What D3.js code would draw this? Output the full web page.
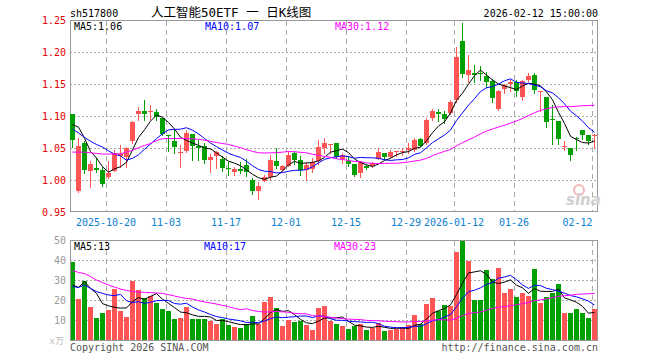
<!DOCTYPE html>
<html><head><meta charset="utf-8">
<script src="https://cdn.jsdelivr.net/npm/d3@7"></script>
<style>body{margin:0;background:#fff}svg{display:block}</style>
</head><body><svg id="c" width="660" height="360"></svg>
<script>
const dates = ["10-10","10-13","10-14","10-15","10-16","10-17","10-20","10-21","10-22","10-23","10-24","10-27","10-28","10-29","10-30","10-31","11-03","11-04","11-05","11-06","11-07","11-10","11-11","11-12","11-13","11-14","11-17","11-18","11-19","11-20","11-21","11-24","11-25","11-26","11-27","11-28","12-01","12-02","12-03","12-04","12-05","12-08","12-09","12-10","12-11","12-12","12-15","12-16","12-17","12-18","12-19","12-22","12-23","12-24","12-25","12-26","12-29","12-30","12-31","01-05","01-06","01-07","01-08","01-09","01-12","01-13","01-14","01-15","01-16","01-19","01-20","01-21","01-22","01-23","01-26","01-27","01-28","01-29","01-30","02-02","02-03","02-04","02-05","02-06","02-09","02-10","02-11","02-12"];
const open  = [1.103,0.983,1.058,1.015,1.019,1.016,1.005,1.015,1.038,1.036,1.061,1.103,1.109,1.107,1.107,1.098,1.070,1.062,1.0425,1.046,1.072,1.054,1.054,1.032,1.038,1.033,1.019,1.013,1.018,1.024,1.000,0.983,0.999,1.005,1.030,1.016,1.023,1.042,1.031,1.016,1.017,1.030,1.051,1.0555,1.058,1.033,1.030,1.025,1.011,1.022,1.022,1.034,1.043,1.036,1.0445,1.044,1.047,1.048,1.064,1.0585,1.097,1.107,1.103,1.105,1.126,1.218,1.165,1.168,1.168,1.163,1.155,1.111,1.143,1.151,1.153,1.130,1.157,1.165,1.139,1.130,1.096,1.093,1.052,1.051,1.066,1.079,1.070,1.069];
const high  = [1.104,1.066,1.061,1.030,1.035,1.021,1.030,1.047,1.055,1.052,1.093,1.114,1.126,1.118,1.111,1.098,1.070,1.078,1.055,1.079,1.072,1.063,1.059,1.041,1.046,1.038,1.029,1.021,1.028,1.034,1.003,0.997,1.009,1.040,1.051,1.024,1.046,1.046,1.038,1.028,1.035,1.063,1.066,1.057,1.058,1.043,1.038,1.025,1.030,1.024,1.028,1.051,1.043,1.048,1.046,1.051,1.0575,1.066,1.066,1.0975,1.111,1.111,1.109,1.126,1.209,1.246,1.196,1.180,1.179,1.170,1.159,1.141,1.151,1.157,1.157,1.157,1.167,1.167,1.140,1.130,1.118,1.093,1.061,1.051,1.068,1.079,1.071,1.072];
const low   = [1.052,0.982,1.012,0.990,1.013,0.991,1.004,1.014,1.021,1.021,1.059,1.095,1.095,1.096,1.095,1.070,1.046,1.043,1.021,1.045,1.032,1.032,1.027,1.013,1.019,1.015,1.009,1.008,1.012,1.007,0.978,0.970,0.999,1.001,1.019,1.015,1.022,1.026,1.009,1.000,1.013,1.025,1.043,1.043,1.035,1.027,1.023,1.006,1.005,1.018,1.020,1.033,1.033,1.036,1.038,1.040,1.043,1.0465,1.053,1.057,1.095,1.092,1.090,1.103,1.123,1.162,1.154,1.153,1.157,1.146,1.122,1.110,1.137,1.139,1.132,1.126,1.155,1.137,1.109,1.083,1.057,1.056,1.047,1.032,1.048,1.065,1.057,1.051];
const close = [1.063,1.054,1.016,1.025,1.016,0.995,1.011,1.043,1.041,1.051,1.091,1.109,1.103,1.108,1.099,1.073,1.069,1.052,1.0435,1.074,1.053,1.050,1.032,1.036,1.044,1.019,1.018,1.017,1.015,1.013,0.984,0.991,1.005,1.031,1.022,1.023,1.040,1.032,1.016,1.024,1.028,1.052,1.059,1.0565,1.036,1.040,1.025,1.009,1.028,1.019,1.027,1.044,1.037,1.045,1.0455,1.0455,1.051,1.063,1.054,1.095,1.109,1.103,1.096,1.123,1.193,1.166,1.172,1.164,1.166,1.154,1.128,1.140,1.149,1.153,1.139,1.155,1.163,1.141,1.140,1.091,1.094,1.065,1.054,1.040,1.065,1.071,1.061,1.070];
const volume = [39,20.5,29.5,16.5,11,13.5,15,25.7,14.5,11.5,29.5,25,21,22,18.5,15.5,14.5,10.5,11,16.5,10.5,10.5,10.5,9.5,8,10.5,7.5,6.5,6,8,12,8,19,21.5,16,7,10,9,9.5,7.5,5,16,17,9.5,8,7,5.5,7,7.8,5,6.2,8.3,4.5,5,5.3,6.7,7.3,12.5,7.8,18,21,14.3,17.5,17,44,49.5,39.7,20,20,35,30.3,35.8,23.7,25.5,21.7,23.7,22.2,35.5,18.7,21.3,23.7,28.2,13.5,13.5,15.5,13.5,11,15.5];
// moving-average values for days before a full window exists
const priceMA5Lead  = [1.087,1.083,1.066,1.045];
const priceMA10Lead = [1.080,1.074,1.067,1.061,1.056,1.052,1.046,1.041,1.038];
const priceMA30Lead = [1.044,1.044,1.044,1.043,1.042,1.041,1.041,1.041,1.0415,1.044,1.0467,1.051,1.0544,1.0575,1.062,1.065,1.0653,1.0653,1.0653,1.0653,1.0648,1.064,1.0627,1.061,1.059,1.0575,1.056,1.0534,1.051];
const volMA5Lead  = [27.5,26.3,29.2,25.8];
const volMA10Lead = [26.7,26.3,27.5,25.8,24.2,23.3,22.5,22.2,22.8];
const volMA30Lead = [34.7,33.8,33.2,31.7,30,28.7,27.5,26.5,25.5,24.8,24.2,24,23.8,23.7,23.5,23.3,22.7,22,21.3,20.8,20.5,19.7,19,18.5,18,17.3,16.7,15.8,15.2];
const priceTicks = [0.95,1.00,1.05,1.10,1.15,1.20,1.25];
const volTicks = [10,20,30,40,50];
const xTickDates  = ["10-20","11-03","11-17","12-01","12-15","12-29","01-12","01-26","02-12"];
const xTickLabels = ["2025-10-20","11-03","11-17","12-01","12-15","12-29","2026-01-12","01-26","02-12"];
const maNames = ["MA5","MA10","MA30"];
const priceMALabels = ["1.06","1.07","1.12"];
const volMALabels = ["13","17","23"];

const svg = d3.select("#c");
const mono = "'DejaVu Sans Mono', monospace";
const RED = "#ff5555", GREEN = "#00a000";
const maColors = ["#000000", "#0000ff", "#ff00ff"];
const L = 70, R = 597;

const x = d3.scaleBand().domain(dates).range([L, R]).paddingInner(1/6).paddingOuter(0);
const cx = d => x(d) + x.bandwidth() / 2;
const y = d3.scaleLinear().domain([0.95, 1.25]).range([212.3, 20.3]);
const yv = d3.scaleLinear().domain([0, 50]).range([340, 240]);

function ma(arr, n, lead) {
  return arr.map((_, i) => i < n - 1 ? lead[i] : d3.mean(arr.slice(i - n + 1, i + 1)));
}

// ---- header
svg.append("text").attr("x", 70).attr("y", 17).attr("font-family", mono).attr("font-size", 10).text("sh517800");
svg.append("text").attr("x", 151).attr("y", 17).attr("font-family", "'DejaVu Sans Mono','Noto Sans CJK SC'").attr("font-size", 12.5).text("人工智能50ETF 一 日K线图");
svg.append("text").attr("x", 598).attr("y", 17).attr("text-anchor", "end").attr("font-family", mono).attr("font-size", 10).text("2026-02-12 15:00:00");

function panelGrid(top, bottom, yScale, ticks, inner) {
  const g = svg.append("g");
  // horizontal dotted grid
  g.selectAll("line.h").data(inner).join("line")
    .attr("x1", L).attr("x2", R)
    .attr("y1", d => Math.round(yScale(d)) + 0.5).attr("y2", d => Math.round(yScale(d)) + 0.5)
    .attr("stroke", "#aaa").attr("stroke-dasharray", "2,2");
  // vertical dashed grid
  g.selectAll("line.v").data(xTickDates).join("line")
    .attr("x1", d => x(d) + 0.5).attr("x2", d => x(d) + 0.5)
    .attr("y1", top).attr("y2", bottom)
    .attr("stroke", "#aaa").attr("stroke-dasharray", "5,4");
  return g;
}

// ---- price panel
panelGrid(21, 211, y, priceTicks, [1.00, 1.05, 1.10, 1.15, 1.20]);
svg.append("rect").attr("x", L + 0.5).attr("y", 20.5).attr("width", R - L).attr("height", 191)
  .attr("fill", "none").attr("stroke", "#999");
svg.selectAll("text.py").data(priceTicks).join("text")
  .attr("x", 66).attr("y", d => y(d) + 4).attr("text-anchor", "end")
  .attr("font-family", mono).attr("font-size", 10).attr("fill", "#e00000")
  .text(d => d.toFixed(2));

// x axis labels
svg.selectAll("text.xl").data(xTickDates).join("text")
  .attr("x", (d, i) => i === xTickDates.length - 1 ? x(d) + 0.5 : x(d))
  .attr("y", 226)
  .attr("text-anchor", (d, i) => i === xTickDates.length - 1 ? "end" : "middle")
  .attr("font-family", mono).attr("font-size", 10).attr("fill", "#0a80d0")
  .text((d, i) => xTickLabels[i]);

// watermark
const wm = svg.append("g");
wm.append("circle").attr("cx", 579).attr("cy", 190).attr("r", 5).attr("fill", "none").attr("stroke", "#f2b8b8").attr("stroke-width", 2);
wm.append("text").attr("x", 566).attr("y", 205).attr("font-family", "'DejaVu Sans'").attr("font-weight", "bold")
  .attr("font-style", "italic").attr("font-size", 15).attr("fill", "#cfcfcf").text("sina");

// candles
const idx = d3.range(dates.length);
const cg = svg.append("g");
cg.selectAll("line.w").data(idx).join("line")
  .attr("x1", i => cx(dates[i])).attr("x2", i => cx(dates[i]))
  .attr("y1", i => Math.round(y(high[i]))).attr("y2", i => Math.round(y(low[i])) + 1)
  .attr("stroke", i => close[i] >= open[i] ? RED : GREEN);
cg.selectAll("rect.b").data(idx).join("rect")
  .attr("x", i => x(dates[i])).attr("width", x.bandwidth())
  .attr("y", i => Math.round(y(Math.max(open[i], close[i]))))
  .attr("height", i => Math.max(1, Math.round(y(Math.min(open[i], close[i]))) - Math.round(y(Math.max(open[i], close[i])))))
  .attr("fill", i => close[i] >= open[i] ? RED : GREEN);

// price MAs
const pMA = [ma(close, 5, priceMA5Lead), ma(close, 10, priceMA10Lead), ma(close, 30, priceMA30Lead)];
const pLine = d3.line().x((v, i) => cx(dates[i])).y(v => y(v));
pMA.forEach((s, k) => svg.append("path").attr("d", pLine(s)).attr("fill", "none").attr("stroke", maColors[k]).attr("stroke-width", 1));

// price legend
const legX = [74, 205, 335];
maNames.forEach((n, k) => svg.append("text").attr("x", legX[k]).attr("y", 30).attr("font-family", mono)
  .attr("font-size", 10).attr("fill", maColors[k]).text(n + ":" + priceMALabels[k]));

// ---- volume panel
panelGrid(241, 340, yv, volTicks, [10, 20, 30, 40]);
svg.selectAll("rect.v").data(idx).join("rect")
  .attr("x", i => x(dates[i])).attr("width", x.bandwidth())
  .attr("y", i => Math.round(yv(volume[i]))).attr("height", i => 340 - Math.round(yv(volume[i])))
  .attr("fill", i => close[i] >= open[i] ? RED : GREEN);
const vMA = [ma(volume, 5, volMA5Lead), ma(volume, 10, volMA10Lead), ma(volume, 30, volMA30Lead)];
const vLine = d3.line().x((v, i) => cx(dates[i])).y(v => yv(v));
vMA.forEach((s, k) => svg.append("path").attr("d", vLine(s)).attr("fill", "none").attr("stroke", maColors[k]).attr("stroke-width", 1));
svg.append("rect").attr("x", L + 0.5).attr("y", 240.5).attr("width", R - L).attr("height", 100)
  .attr("fill", "none").attr("stroke", "#999");
svg.selectAll("text.vy").data(volTicks).join("text")
  .attr("x", 66).attr("y", d => yv(d) + 4).attr("text-anchor", "end")
  .attr("font-family", mono).attr("font-size", 10).attr("fill", "#999").text(d => d);
svg.append("text").attr("x", 64).attr("y", 344).attr("text-anchor", "end")
  .attr("font-family", "'DejaVu Sans Mono','Noto Sans CJK SC'").attr("font-size", 9).attr("fill", "#bbb").text("x万");
maNames.forEach((n, k) => svg.append("text").attr("x", legX[k] - (k ? 1 : 0)).attr("y", 250).attr("font-family", mono)
  .attr("font-size", 10).attr("fill", maColors[k]).text(n + ":" + volMALabels[k]));

// footer
svg.append("text").attr("x", 70).attr("y", 351).attr("font-family", mono).attr("font-size", 10).attr("fill", "#555").text("Copyright 2026 SINA.COM");
svg.append("text").attr("x", 598).attr("y", 351).attr("text-anchor", "end").attr("font-family", mono).attr("font-size", 10).attr("fill", "#555").text("http://finance.sina.com.cn");
</script></body></html>
